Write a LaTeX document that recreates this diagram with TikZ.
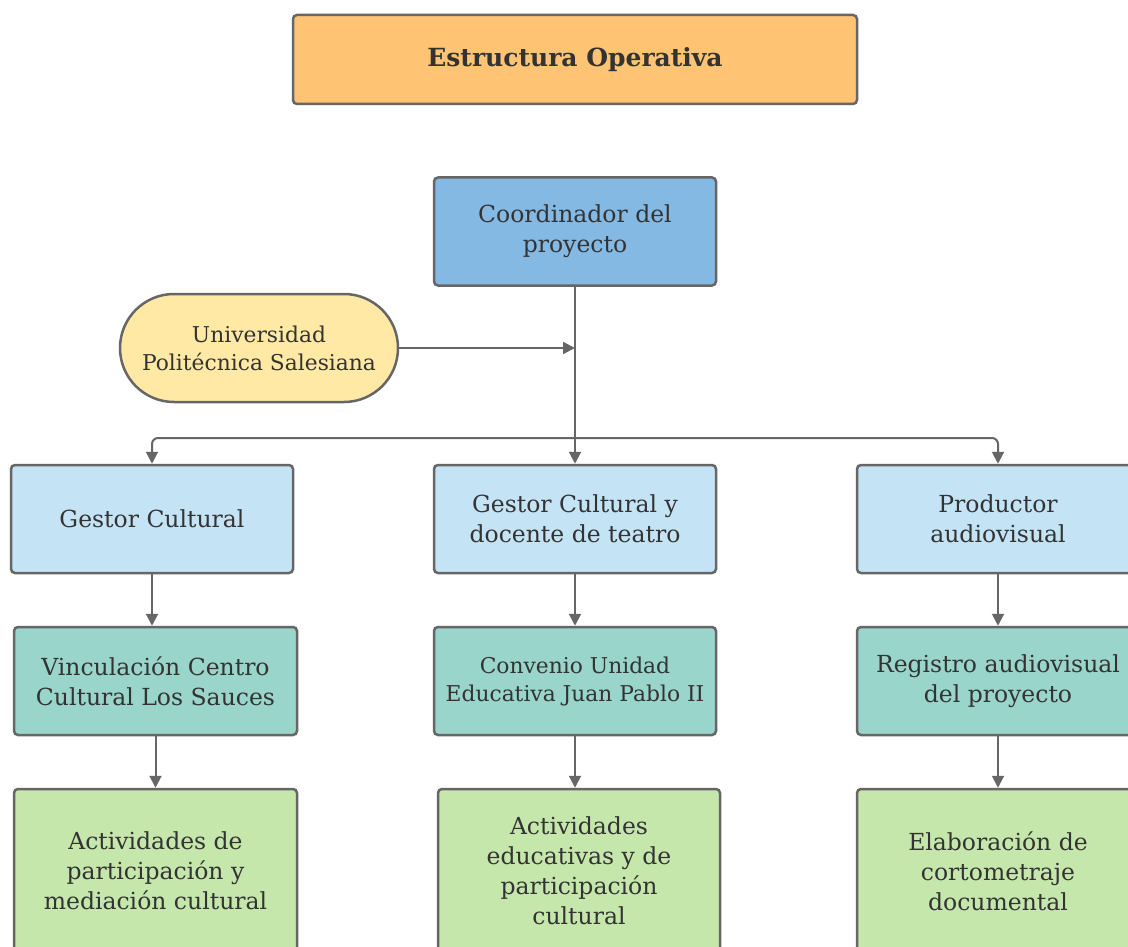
\documentclass[tikz,border=0pt]{standalone}
\usepackage{fontspec}
\setmainfont{DejaVu Serif}
\usetikzlibrary{arrows.meta}
\definecolor{bordc}{HTML}{666666}
\definecolor{txtc}{HTML}{333333}
\definecolor{titlec}{HTML}{FFC374}
\definecolor{coordc}{HTML}{84B9E4}
\definecolor{univc}{HTML}{FFE9A5}
\definecolor{rowb}{HTML}{C4E4F6}
\definecolor{rowt}{HTML}{99D5CB}
\definecolor{rowg}{HTML}{C6E7AC}
\tikzset{
  box/.style={draw=bordc, line width=2.5pt, rounded corners=4pt, minimum width=282pt,
    minimum height=108pt, inner sep=0pt, align=center, text=txtc,
    font=\fontsize{23.5}{30}\selectfont},
  conn/.style={draw=bordc, line width=2pt, -{Triangle[length=12pt,width=12pt]}},
  plain/.style={draw=bordc, line width=2pt},
}
\begin{document}
\begin{tikzpicture}[x=1pt,y=-1pt]
\clip (0,0) rectangle (1128,947);
\useasboundingbox (0,0) rectangle (1128,947);
\fill[white] (0,0) rectangle (1128,947);
\node[box, fill=titlec, minimum width=564pt, minimum height=89pt,
  font=\bfseries\fontsize{25}{30}\selectfont] (title) at (575,59.5) {Estructura Operativa};
\node[box, fill=coordc] (coord) at (575,231.5) {Coordinador del\\proyecto};
\node[box, fill=univc, minimum width=278pt, rounded corners=54pt,
  font=\fontsize{21.8}{28}\selectfont] (univ) at (259,348) {Universidad\\Politécnica Salesiana};
\node[box, fill=rowb] (g1) at (152,519) {Gestor Cultural};
\node[box, fill=rowb] (g2) at (575,519) {Gestor Cultural y\\docente de teatro};
\node[box, fill=rowb] (g3) at (998,519) {Productor\\audiovisual};
\node[box, fill=rowt, minimum width=283pt] (v1) at (155.5,681) {Vinculación Centro\\Cultural Los Sauces};
\node[box, fill=rowt, font=\fontsize{21.8}{28}\selectfont] (v2) at (575,681) {Convenio Unidad\\Educativa Juan Pablo II};
\node[box, fill=rowt] (v3) at (998,681) {Registro audiovisual\\del proyecto};
\node[box, fill=rowg, minimum width=283pt, minimum height=164pt] (a1) at (155.5,871) {Actividades de\\participación y\\mediación cultural};
\node[box, fill=rowg, minimum height=164pt] (a2) at (579,871) {Actividades\\educativas y de\\participación\\cultural};
\node[box, fill=rowg, minimum height=164pt] (a3) at (998,871) {Elaboración de\\cortometraje\\documental};
\coordinate (j) at (575,438);
\coordinate (m) at (575,348);
\draw[plain] (coord.south) -- (j);
\draw[conn] (univ.east) -- (m);
\draw[conn, rounded corners=6pt] (j) -| (g1.north);
\draw[conn, rounded corners=6pt] (j) -| (g3.north);
\draw[conn] (j) -- (g2.north);
\draw[conn] (g1.south) -- (g1.south |- v1.north);
\draw[conn] (g2.south) -- (v2.north);
\draw[conn] (g3.south) -- (v3.north);
\draw[conn] (v1.south) -- (a1.north);
\draw[conn] (v2.south) -- (v2.south |- a2.north);
\draw[conn] (v3.south) -- (a3.north);
\end{tikzpicture}
\end{document}
